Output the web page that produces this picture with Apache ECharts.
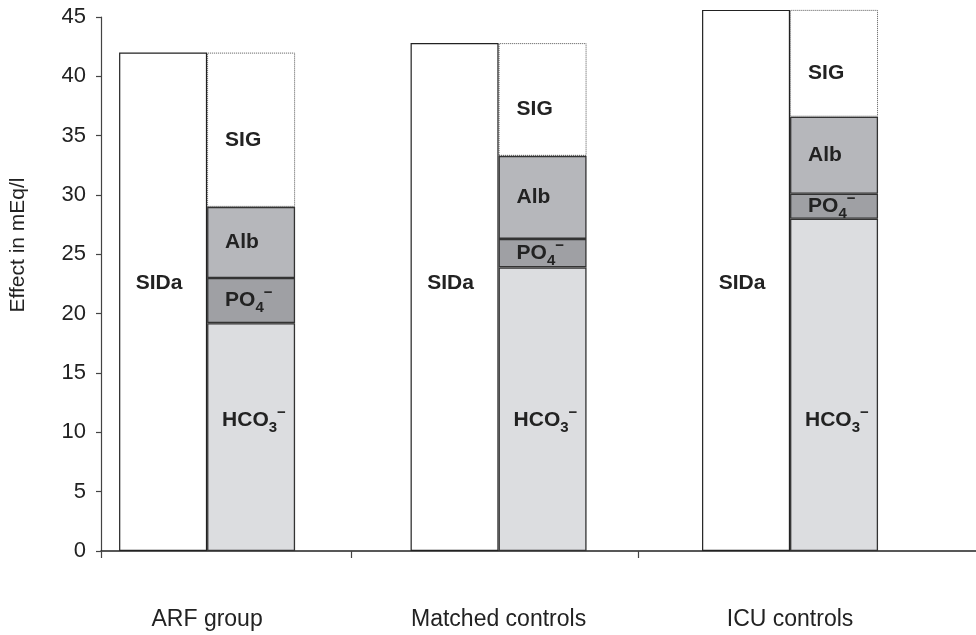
<!DOCTYPE html>
<html>
<head>
<meta charset="utf-8">
<script src="https://cdn.jsdelivr.net/npm/echarts@6/dist/echarts.min.js"></script>
<style>
html,body{margin:0;padding:0;background:#fff;}
#chart{width:976px;height:635px;}
</style>
</head>
<body>
<div id="chart"></div>
<script>
const categories = ['ARF group', 'Matched controls', 'ICU controls'];
const sidaValues = [42.0, 42.8, 45.6];
const hco3Values = [19.2, 23.9, 28.0];
const po4Values = [3.8, 2.4, 2.1];
const albValues = [6.0, 7.0, 6.5];
const sigValues = [13.0, 9.5, 9.0];
const yMin = 0, yMax = 45, yStep = 5;

const FONT = '"Liberation Sans", Arial, Helvetica, sans-serif';
const TXT = '#222';
const xMin = -0.364, xMax = 2.638;

// rows are [value, categoryIndex] so the stacked dimension is the value
function pts(arr) { return arr.map((v, i) => [v, i]); }
const ENC = { x: 1, y: 0 };

const richStyles = {
  b: { fontSize: 21, fontWeight: 'bold', fontFamily: FONT, color: TXT, lineHeight: 30, verticalAlign: 'middle' },
  sub: { fontSize: 15, fontWeight: 'bold', fontFamily: FONT, color: TXT, lineHeight: 15, verticalAlign: 'bottom' },
  sup: { fontSize: 15, fontWeight: 'bold', fontFamily: FONT, color: TXT, lineHeight: 15, verticalAlign: 'top' }
};

function segLabel(text, extra) {
  return Object.assign({
    show: true,
    formatter: text,
    position: [18, '50%'],
    align: 'left',
    verticalAlign: 'middle',
    fontSize: 21,
    fontWeight: 'bold',
    fontFamily: FONT,
    color: TXT,
    rich: richStyles
  }, extra || {});
}

const segBorder = { borderColor: '#333', borderWidth: 1.3 };

const chart = echarts.init(document.getElementById('chart'));
chart.setOption({
  animation: false,
  backgroundColor: '#fff',
  grid: { left: 98, right: 0, top: 17, bottom: 84 },
  xAxis: {
    type: 'value',
    min: xMin,
    max: xMax,
    splitLine: { show: false },
    axisLine: { show: true, onZero: false, lineStyle: { color: '#222', width: 1.5 } },
    axisTick: {
      show: true,
      length: 7,
      lineStyle: { color: '#444', width: 1.2 },
      customValues: [xMin, 0.494, 1.478]
    },
    axisLabel: {
      show: true,
      customValues: [0, 1, 2],
      formatter: function (v) { return categories[Math.round(v)] || ''; },
      margin: 57,
      fontSize: 23,
      fontFamily: FONT,
      color: TXT
    }
  },
  yAxis: {
    type: 'value',
    min: yMin,
    max: yMax,
    interval: yStep,
    name: 'Effect in mEq/l',
    nameLocation: 'middle',
    nameGap: 72,
    nameTextStyle: { fontSize: 21, fontFamily: FONT, color: TXT, padding: [0, 0, 0, 78] },
    splitLine: { show: false },
    axisLine: { show: true, onZero: false, lineStyle: { color: '#444', width: 1.2 } },
    axisTick: { show: true, length: 5, lineStyle: { color: '#444', width: 1.2 } },
    axisLabel: { margin: 15, fontSize: 22, fontFamily: FONT, color: TXT }
  },
  series: [
    {
      name: 'SIDa', type: 'bar', data: pts(sidaValues), encode: ENC, barWidth: 88, barGap: '0%', clip: false, z: 3,
      itemStyle: { color: '#fff', borderColor: '#222', borderWidth: 1.2 },
      label: {
        show: true, formatter: 'SIDa', position: ['50%', '100%'], offset: [-4, -268],
        align: 'center', verticalAlign: 'middle', fontSize: 21, fontWeight: 'bold', fontFamily: FONT, color: TXT
      }
    },
    {
      name: 'HCO3', type: 'bar', stack: 'ions', data: pts(hco3Values), encode: ENC, barWidth: 88, barGap: '0%', clip: false, z: 2,
      itemStyle: Object.assign({ color: '#dcdde0' }, segBorder),
      label: segLabel('{b|HCO}{sub|3}{sup|−}', { position: [15, '100%'], offset: [0, -131] })
    },
    {
      name: 'PO4', type: 'bar', stack: 'ions', data: pts(po4Values), encode: ENC, barWidth: 88, barGap: '0%', clip: false, z: 2,
      itemStyle: Object.assign({ color: '#9fa0a4' }, segBorder),
      label: segLabel('{b|PO}{sub|4}{sup|−}')
    },
    {
      name: 'Alb', type: 'bar', stack: 'ions', data: pts(albValues), encode: ENC, barWidth: 88, barGap: '0%', clip: false, z: 2,
      itemStyle: Object.assign({ color: '#b6b7bb' }, segBorder),
      label: segLabel('{b|Alb}')
    },
    {
      name: 'SIG', type: 'bar', stack: 'ions', data: pts(sigValues), encode: ENC, barWidth: 88, barGap: '0%', clip: false, z: 1,
      itemStyle: { color: '#fff', borderColor: '#555', borderWidth: 1, borderType: 'dotted' },
      label: segLabel('{b|SIG}', { offset: [0, 10] })
    }
  ]
});
</script>
</body>
</html>
